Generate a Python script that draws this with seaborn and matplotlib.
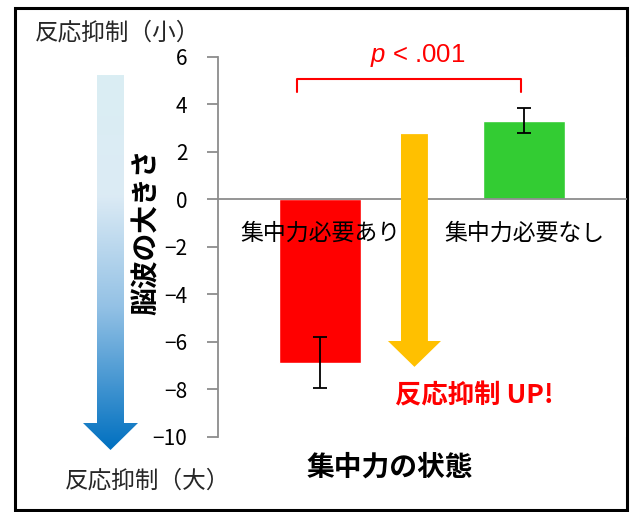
import matplotlib
matplotlib.use("Agg")
import matplotlib.pyplot as plt
from matplotlib.colors import LinearSegmentedColormap
from matplotlib.patches import FancyArrow, Polygon, Rectangle
import numpy as np
import pandas as pd
import seaborn as sns

# values
categories = ["集中力必要あり", "集中力必要なし"]
means = [-6.88, 3.30]
errors = [1.07, 0.53]
bar_colors = ["#FF0000", "#33CC33"]
y_ticks = [-10, -8, -6, -4, -2, 0, 2, 4, 6]

sns.set_theme(style="white")
plt.rcParams["font.family"] = ["Noto Sans CJK JP", "DejaVu Sans"]
plt.rcParams["mathtext.fontset"] = "custom"
plt.rcParams["mathtext.it"] = "Liberation Sans:italic"
plt.rcParams["mathtext.rm"] = "Liberation Sans"

W, H = 632, 512
fig = plt.figure(figsize=(W / 100, H / 100), dpi=100)

# overlay in pixel coordinates for the frame and side notes
bg = fig.add_axes([0, 0, 1, 1])
bg.axis("off")

ax = fig.add_axes([218 / W, 1 - 436.7 / H, 408 / W, 380 / H])
df = pd.DataFrame({"cond": categories, "value": means})
sns.barplot(data=df, x="cond", y="value", hue="cond", palette=bar_colors,
            width=0.4, saturation=1, legend=False, ax=ax, zorder=2)
ax.errorbar(range(len(categories)), means, yerr=errors, fmt="none",
            ecolor="black", elinewidth=1.3, capsize=5, capthick=1.3, zorder=3)

ax.set_xlim(-0.5, 1.5)
ax.set_ylim(-10, 6)
ax.set_yticks(y_ticks)
sns.despine(ax=ax)
ax.spines["bottom"].set_position(("data", 0))
for s in ("left", "bottom"):
    ax.spines[s].set_color("#8c8c8c")
    ax.spines[s].set_linewidth(1.3)
ax.tick_params(axis="y", left=True, direction="out", length=8, width=1.3,
               color="#8c8c8c", pad=14, labelsize=15, labelcolor="black")
ax.tick_params(axis="x", length=0, pad=16, labelsize=16.5, labelcolor="black")
# category labels sit on top of the bars
ax.xaxis.set_zorder(6)

ax.set_ylabel("脳波の大きさ", fontsize=20, fontweight="bold", color="black")
ax.yaxis.set_label_coords(-0.14, 0.54)
ax.set_xlabel("集中力の状態", fontsize=20, fontweight="bold", color="black")
ax.xaxis.set_label_coords(0.4216, -0.045)

# orange arrow between the bars
ax.add_patch(FancyArrow(0.463, 2.74, 0, -9.8, width=0.132, head_width=0.26,
                        head_length=1.09, length_includes_head=True,
                        color="#FFC000", lw=0, zorder=4))

# significance bracket
ax.plot([-0.113, -0.113, 0.985, 0.985], [4.51, 5.06, 5.06, 4.51],
        color="red", lw=1.5, clip_on=False, zorder=4)
ax.text(0.48, 6.05, "$p$ < .001", color="red", fontsize=18.5,
        family="Liberation Sans", ha="center", va="center", clip_on=False)
ax.text(0.755, -8.29, "反応抑制 UP!", color="red", fontsize=19,
        fontweight="bold", ha="center", va="center", clip_on=False)

# gradient arrow on the left
arrow_pts = [(97, 75), (124, 75), (124, 423), (138, 423), (110.5, 450),
             (83, 423), (97, 423)]
poly = Polygon(arrow_pts, closed=True, fc="none", ec="none")
bg.add_patch(poly)
cmap = LinearSegmentedColormap.from_list(
    "grad", [(0, "#DAEEF3"), (0.32, "#DCEBF5"), (0.62, "#93C1E5"), (1, "#0070C0")])
grad = np.linspace(0, 1, 256).reshape(-1, 1)
img = bg.imshow(grad, cmap=cmap, extent=(83, 138, 450, 75), origin="upper",
                aspect="auto", interpolation="bilinear")
img.set_clip_path(poly)

bg.text(118, 33, "反応抑制（小）", ha="center", va="center", fontsize=17)
bg.text(148, 481, "反応抑制（大）", ha="center", va="center", fontsize=17)
bg.add_patch(Rectangle((15, 8), 612, 502, fill=False, ec="black", lw=2.2))
bg.set_xlim(0, W)
bg.set_ylim(H, 0)

fig.savefig("out.png", dpi=100)
